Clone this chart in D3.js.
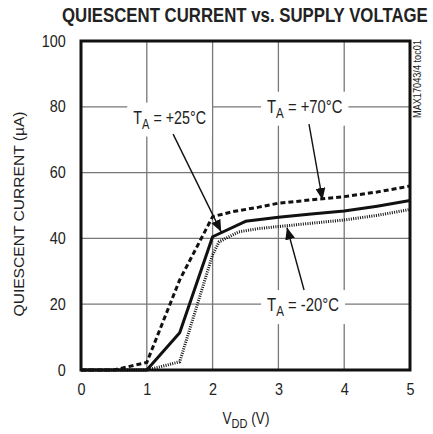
<!DOCTYPE html>
<html lang="en">
  <head>
    <meta charset="utf-8">
    <title>Quiescent Current vs. Supply Voltage</title>
    <script src="https://d3js.org/d3.v7.min.js"></script>
    <style>
      body { margin: 0; background: #fff; }
      svg text { font-family: "Liberation Sans Narrow", "Arial Narrow", "Liberation Sans", sans-serif; fill: #222; }
    </style>
  </head>
  <body>
    <div id="chart"></div>
    <script>
      // values
      var vddTicks = [0, 1, 2, 3, 4, 5];
      var currentTicks = [0, 20, 40, 60, 80, 100];

      var vdd25 = [0, 0.5, 1, 1.5, 2, 2.5, 3, 3.5, 4, 4.5, 5];
      var current25 = [0, 0, 0, 11.3, 40.5, 45.2, 46.4, 47.4, 48.3, 49.8, 51.5];

      var vdd70 = [0, 0.5, 1, 1.5, 2, 2.3, 2.7, 3, 3.5, 4, 4.5, 5];
      var current70 = [0, 0, 2.3, 27.4, 46.6, 48.1, 49.5, 50.7, 51.7, 52.7, 54.1, 55.9];

      var vddM20 = [0, 0.5, 1, 1.25, 1.5, 2, 2.1, 2.4, 2.7, 3, 3.5, 4, 4.5, 5];
      var currentM20 = [0, 0, 0, 1.2, 2.5, 35, 39, 42, 43, 43.6, 44.6, 45.6, 47, 48.8];

      // annotation: label anchor, arrow start, arrow tip (data units)
      var labelTemps = ["+25°C", "+70°C", "-20°C"];
      var labelX = [1.347, 3.40, 3.375];
      var labelY = [74.9, 78.2, 17.9];
      var arrowFrom = [[1.40, 71.7], [3.465, 74.7], [3.39, 24.3]];
      var arrowTo = [[2.13, 42.0], [3.67, 51.7], [3.13, 43.3]];

      var W = 433, H = 434;
      var svg = d3.select("#chart").append("svg").attr("width", W).attr("height", H);

      var x = d3.scaleLinear().domain([0, 5]).range([81, 410]);
      var y = d3.scaleLinear().domain([0, 100]).range([370, 41]);

      // squeeze a text group horizontally to a given width (condensed look)
      function squeeze(g, cx, w) {
        var bb = g.node().getBBox();
        var s = w / bb.width;
        g.attr("transform", "translate(" + cx + ",0) scale(" + s + ",1) translate(" + (-cx) + ",0)");
      }

      //grid
      svg.append("g").selectAll("line").data(vddTicks.slice(1, -1)).enter().append("line")
        .attr("x1", d => x(d)).attr("x2", d => x(d)).attr("y1", y(0)).attr("y2", y(100))
        .attr("stroke", "#777").attr("stroke-width", 1.3);
      svg.append("g").selectAll("line").data(currentTicks.slice(1, -1)).enter().append("line")
        .attr("y1", d => y(d)).attr("y2", d => y(d)).attr("x1", x(0)).attr("x2", x(5))
        .attr("stroke", "#777").attr("stroke-width", 1.3);

      //tick labels
      var xAxis = d3.axisBottom(x).tickValues(vddTicks).tickSize(0).tickPadding(14).tickFormat(d3.format("d"));
      var gx = svg.append("g").attr("transform", "translate(0," + y(0) + ")").call(xAxis);
      var yAxis = d3.axisLeft(y).tickValues(currentTicks).tickSize(0).tickPadding(17).tickFormat(d3.format("d"));
      var gy = svg.append("g").attr("transform", "translate(" + x(0) + ",0)").call(yAxis);
      [gx, gy].forEach(function (g) {
        g.select(".domain").remove();
        g.selectAll("text").style("font-size", "16px").attr("fill", "#222")
          .style("font-family", "'Liberation Sans Narrow', 'Arial Narrow', 'Liberation Sans', sans-serif");
      });
      gy.selectAll("text").attr("transform", "scale(0.9,1)");
      gx.selectAll("text").attr("transform", "scale(0.9,1)");

      //curves
      var line = d3.line().x(d => x(d[0])).y(d => y(d[1]));
      function pts(xs, ys) { return xs.map((v, i) => [v, ys[i]]); }

      svg.append("path").datum(pts(vddM20, currentM20)).attr("d", line)
        .attr("fill", "none").attr("stroke", "#111").attr("stroke-width", 3)
        .attr("stroke-dasharray", "1,1.3");
      svg.append("path").datum(pts(vdd70, current70)).attr("d", line)
        .attr("fill", "none").attr("stroke", "#111").attr("stroke-width", 3)
        .attr("stroke-dasharray", "5,3");
      svg.append("path").datum(pts(vdd25, current25)).attr("d", line)
        .attr("fill", "none").attr("stroke", "#111").attr("stroke-width", 3)
        .attr("stroke-linejoin", "round");

      //frame
      svg.append("rect").attr("x", x(0)).attr("y", y(100))
        .attr("width", x(5) - x(0)).attr("height", y(0) - y(100))
        .attr("fill", "none").attr("stroke", "#111").attr("stroke-width", 3);

      //arrowhead
      svg.append("defs").append("marker").attr("id", "arrow")
        .attr("viewBox", "0 0 12 10").attr("refX", 12).attr("refY", 5)
        .attr("markerWidth", 12).attr("markerHeight", 10).attr("markerUnits", "userSpaceOnUse")
        .attr("orient", "auto")
        .append("path").attr("d", "M0,0 L12,5 L0,10 Z").attr("fill", "#111");

      //annotations
      var labelW = [72.7, 75.4, 72];
      labelTemps.forEach(function (t, i) {
        var g = svg.append("g");
        var cx = x(labelX[i]);
        var txt = g.append("text").attr("x", cx).attr("y", y(labelY[i]))
          .attr("text-anchor", "middle").style("font-size", "18px").attr("fill", "#333");
        txt.append("tspan").text("T");
        txt.append("tspan").attr("dy", 5).style("font-size", "14px").text("A");
        txt.append("tspan").attr("dy", -5).text(" = " + t);
        var bb = txt.node().getBBox();
        var s = labelW[i] / bb.width;
        var padX = 6 / s;
        g.insert("rect", "text").attr("x", bb.x - padX).attr("y", bb.y - 5)
          .attr("width", bb.width + 2 * padX).attr("height", bb.height + 10).attr("fill", "#fff");
        squeeze(g, cx, labelW[i] + 12);
        svg.append("line")
          .attr("x1", x(arrowFrom[i][0])).attr("y1", y(arrowFrom[i][1]))
          .attr("x2", x(arrowTo[i][0])).attr("y2", y(arrowTo[i][1]))
          .attr("stroke", "#111").attr("stroke-width", 1.4).attr("marker-end", "url(#arrow)");
      });

      //titles
      var gt = svg.append("g");
      gt.append("text").attr("x", 62).attr("y", 22)
        .style("font-size", "21px").style("font-weight", "bold").attr("fill", "#111")
        .text("QUIESCENT CURRENT vs. SUPPLY VOLTAGE");
      squeeze(gt, 62, 366);

      var gyl = svg.append("g");
      gyl.append("text").attr("transform", "translate(24,214) rotate(-90)")
        .attr("text-anchor", "middle").style("font-size", "15px")
        .attr("textLength", 205).attr("lengthAdjust", "spacingAndGlyphs")
        .text("QUIESCENT CURRENT (µA)");

      var gxl = svg.append("g");
      var xl = gxl.append("text").attr("x", 246).attr("y", 424).attr("text-anchor", "middle")
        .style("font-size", "16px");
      xl.append("tspan").text("V");
      xl.append("tspan").attr("dy", 4).style("font-size", "13px").text("DD");
      xl.append("tspan").attr("dy", -4).text(" (V)");
      squeeze(gxl, 246, 47);

      svg.append("text").attr("transform", "translate(421,79) rotate(-90)")
        .attr("text-anchor", "middle").style("font-size", "10px").attr("fill", "#444")
        .attr("textLength", 78).attr("lengthAdjust", "spacingAndGlyphs")
        .text("MAX17043/4 toc01");
    </script>
  </body>
</html>
